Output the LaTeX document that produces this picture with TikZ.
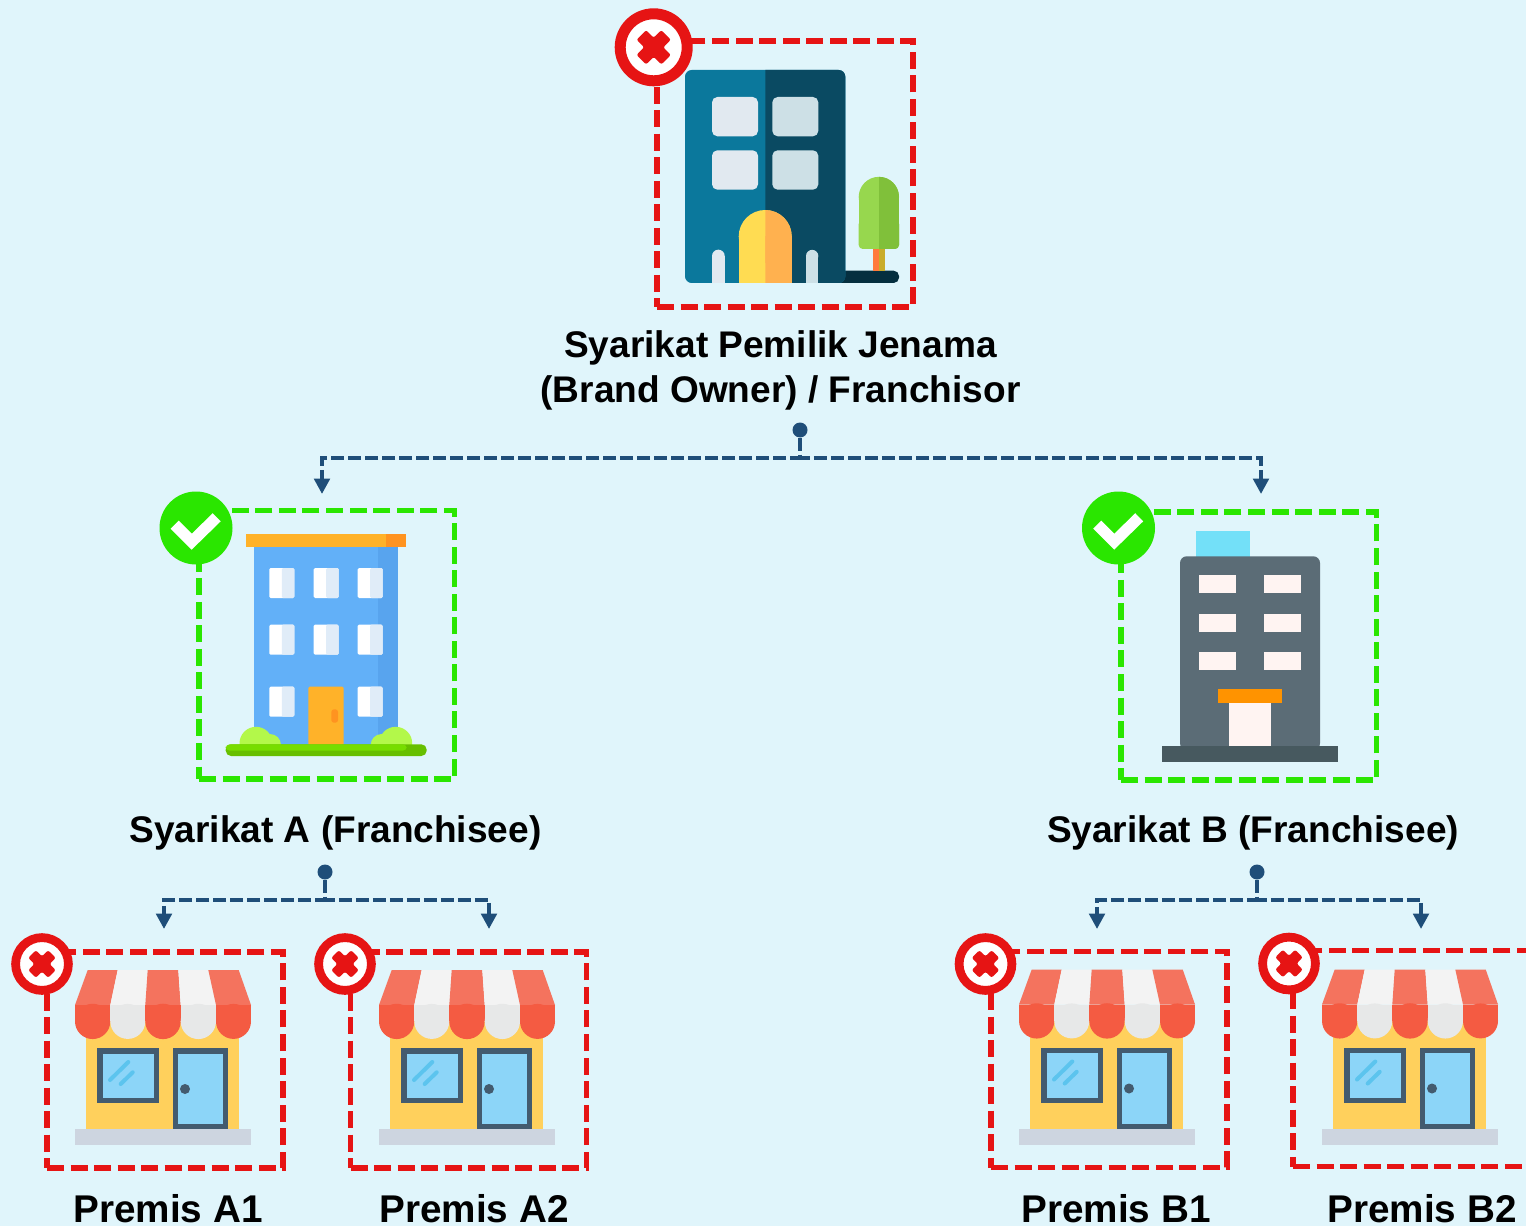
\documentclass[tikz,border=0pt]{standalone}
\usepackage{fontspec}
\setmainfont{Liberation Sans}
\usetikzlibrary{arrows.meta}
\definecolor{skyback}{HTML}{E0F5FB}
\definecolor{nored}{HTML}{E61414}
\definecolor{yesgreen}{HTML}{2AE600}
\definecolor{flowblue}{HTML}{1F4E79}
\definecolor{shopwall}{HTML}{FFD05C}
\definecolor{shopstep}{HTML}{CDD5E0}
\definecolor{awnred}{HTML}{F4735E}
\definecolor{awnwhite}{HTML}{F3F3F3}
\definecolor{lipred}{HTML}{F45B42}
\definecolor{lipgrey}{HTML}{E7E8E8}
\definecolor{frameslate}{HTML}{435B6F}
\definecolor{glass}{HTML}{8CD5F8}
\definecolor{glint}{HTML}{5CC4EE}
\definecolor{panelshade}{HTML}{E0ECF8}
\begin{document}
\begin{tikzpicture}[x=0.75pt, y=-0.75pt]
\tikzset{
  redbox/.style={draw=nored, line width=4pt, dash pattern=on 12.75pt off 4.9pt, inner sep=0pt, outer sep=0pt},
  greenbox/.style={draw=yesgreen, line width=4pt, dash pattern=on 12.75pt off 4.9pt, inner sep=0pt, outer sep=0pt},
  shopbox/.style={redbox, minimum width=177pt, minimum height=162pt},
  nobadge/.style={circle, draw=nored, fill=white, line width=8.25pt, minimum size=50.25pt, inner sep=0pt},
  shopbadge/.style={circle, draw=nored, fill=white, line width=6.6pt, minimum size=39.6pt, inner sep=0pt},
  yesbadge/.style={circle, fill=yesgreen, minimum size=54.75pt, inner sep=0pt},
  dotnode/.style={circle, fill=flowblue, minimum size=11.25pt, inner sep=0pt},
  flow/.style={draw=flowblue, line width=3pt, dash pattern=on 9.75pt off 3pt, -{Triangle[length=11.5pt, width=11.5pt]}},
  labeltext/.style={font=\bfseries\fontsize{27.8}{33.75}\selectfont, align=center, inner sep=0pt},
  shoptext/.style={font=\bfseries\fontsize{29}{33.75}\selectfont, align=center, inner sep=0pt},
  pics/nomark/.style={code={
    \fill[nored, rotate=45, rounded corners=1.5pt] (-6.75,-17.5) -- (6.75,-17.5) -- (6.75,-6.75) -- (17.5,-6.75) -- (17.5,6.75) -- (6.75,6.75) -- (6.75,17.5) -- (-6.75,17.5) -- (-6.75,6.75) -- (-17.5,6.75) -- (-17.5,-6.75) -- (-6.75,-6.75) -- cycle;
  }},
  pics/yesmark/.style={code={
    \draw[white, line width=8.5pt] (-21.3,-3.3) -- (-4.3,13.7) -- (20.7,-10.7);
  }},
  pics/panel/.style={code={
    \fill[white, rounded corners=1pt] (0,0) rectangle (25,30);
    \fill[panelshade, rounded corners=1pt] (12.5,0) rectangle (25,30);
  }},
  pics/shopicon/.style={code={
    % wall and step
    \fill[shopwall] (11.3,50) rectangle (164.3,159.3);
    \fill[shopstep] (0,159.3) rectangle (176,175);
    % awning
    \fill[awnred] (12.7,0) -- (42.7,0) -- (35.3,35) -- (0,35) -- cycle;
    \fill[awnwhite] (42.7,0) -- (72.7,0) -- (70.3,35) -- (35.3,35) -- cycle;
    \fill[awnred] (72.7,0) -- (103.3,0) -- (105.7,35) -- (70.3,35) -- cycle;
    \fill[awnwhite] (103.3,0) -- (133.3,0) -- (141,35) -- (105.7,35) -- cycle;
    \fill[awnred] (133.3,0) -- (163.7,0) -- (176,35) -- (141,35) -- cycle;
    \fill[lipred] (0,35) rectangle (35.3,51.4);
    \fill[lipred] (17.65,51.4) circle[radius=17.65];
    \fill[lipgrey] (35.3,35) rectangle (70.3,51.4);
    \fill[lipgrey] (52.8,51.4) circle[radius=17.5];
    \fill[lipred] (70.3,35) rectangle (105.7,51.4);
    \fill[lipred] (88,51.4) circle[radius=17.7];
    \fill[lipgrey] (105.7,35) rectangle (141,51.4);
    \fill[lipgrey] (123.35,51.4) circle[radius=17.65];
    \fill[lipred] (141,35) rectangle (176,51.4);
    \fill[lipred] (158.5,51.4) circle[radius=17.5];
    % window
    \fill[frameslate] (22,78) rectangle (84.3,133.3);
    \fill[glass] (28,83.7) rectangle (79,128);
    \draw[glint, line width=3pt, line cap=round] (35,110) -- (53.3,92);
    \draw[glint, line width=3pt, line cap=round] (45.7,114) -- (57.7,102.3);
    % door
    \fill[frameslate] (97.7,78) rectangle (153,159.3);
    \fill[glass] (103,83.7) rectangle (148,154);
    \fill[frameslate] (110,119) circle[radius=5];
  }},
}
\useasboundingbox (0,0) rectangle (1526,1226);
\clip (0,0) rectangle (1526,1226);
\fill[skyback] (0,0) rectangle (1526,1226);

% franchisor building
\fill[rounded corners=4pt, fill={rgb,255:red,5;green,47;blue,63}] (830,270.7) rectangle (899,283);
\fill[rounded corners=5pt, fill={rgb,255:red,11;green,120;blue,156}] (685,70) rectangle (845.3,283);
\begin{scope}
\clip (765.3,60) rectangle (860,290);
\fill[rounded corners=5pt, fill={rgb,255:red,10;green,74;blue,98}] (685,70) rectangle (845.3,283);
\end{scope}
\fill[rounded corners=4pt, fill={rgb,255:red,225;green,233;blue,240}] (712,97) rectangle (758,136.3);
\fill[rounded corners=4pt, fill={rgb,255:red,225;green,233;blue,240}] (712,150.3) rectangle (758,189.7);
\fill[rounded corners=4pt, fill={rgb,255:red,205;green,224;blue,230}] (772.3,97) rectangle (818.3,136.3);
\fill[rounded corners=4pt, fill={rgb,255:red,205;green,224;blue,230}] (772.3,150.3) rectangle (818.3,189.7);
\fill[fill={rgb,255:red,255;green,220;blue,82}] (738.7,236.5) rectangle (791.7,283);
\fill[fill={rgb,255:red,255;green,220;blue,82}] (765.2,236.5) circle[radius=26.5];
\begin{scope}
\clip (765.3,200) rectangle (800,290);
\fill[fill={rgb,255:red,255;green,177;blue,79}] (738.7,236.5) rectangle (791.7,283);
\fill[fill={rgb,255:red,255;green,177;blue,79}] (765.2,236.5) circle[radius=26.5];
\end{scope}
\fill[fill={rgb,255:red,225;green,233;blue,240}] (712,256) rectangle (724.7,283);
\fill[fill={rgb,255:red,225;green,233;blue,240}] (718.35,256) circle[radius=6.35];
\fill[fill={rgb,255:red,205;green,224;blue,230}] (806,256) rectangle (818.3,283);
\fill[fill={rgb,255:red,205;green,224;blue,230}] (812.15,256) circle[radius=6.15];
\fill[fill={rgb,255:red,255;green,122;blue,60}] (872.7,245) rectangle (879,270.7);
\fill[fill={rgb,255:red,201;green,172;blue,42}] (879,245) rectangle (885,270.7);
\fill[fill={rgb,255:red,151;green,215;blue,78}] (858.7,197) rectangle (899,240);
\fill[fill={rgb,255:red,151;green,215;blue,78}] (878.85,197) circle[radius=20.15];
\fill[rounded corners=3pt, fill={rgb,255:red,151;green,215;blue,78}] (858.7,220) rectangle (899,249);
\begin{scope}
\clip (879,170) rectangle (905,255);
\fill[fill={rgb,255:red,128;green,192;blue,58}] (858.7,197) rectangle (899,240);
\fill[fill={rgb,255:red,128;green,192;blue,58}] (878.85,197) circle[radius=20.15];
\fill[rounded corners=3pt, fill={rgb,255:red,128;green,192;blue,58}] (858.7,220) rectangle (899,249);
\end{scope}

% franchisee A building
\fill[fill={rgb,255:red,98;green,176;blue,248}] (254,547) rectangle (398,745);
\fill[fill={rgb,255:red,88;green,164;blue,238}] (378,547) rectangle (398,745);
\begin{scope}
\clip (230,720) rectangle (420,750);
\fill[fill={rgb,255:red,179;green,248;blue,74}] (256,743.3) circle[radius=16.5];
\fill[fill={rgb,255:red,179;green,248;blue,74}] (270,745) circle[radius=11];
\fill[fill={rgb,255:red,179;green,248;blue,74}] (395.7,743.3) circle[radius=16.5];
\fill[fill={rgb,255:red,179;green,248;blue,74}] (381.7,745) circle[radius=11];
\end{scope}
\fill[fill={rgb,255:red,255;green,178;blue,41}] (246,534) rectangle (386,547);
\fill[fill={rgb,255:red,255;green,147;blue,32}] (386,534) rectangle (406,547);
\pic at (269.3,568) {panel};
\pic at (313.7,568) {panel};
\pic at (357.7,568) {panel};
\pic at (269.3,624.7) {panel};
\pic at (313.7,624.7) {panel};
\pic at (357.7,624.7) {panel};
\pic at (269.3,686.7) {panel};
\pic at (357.7,686.7) {panel};
\fill[rounded corners=1pt, fill={rgb,255:red,255;green,178;blue,41}] (308.3,686.7) rectangle (343.7,745);
\fill[rounded corners=2pt, fill={rgb,255:red,255;green,147;blue,32}] (331.3,709.3) rectangle (338,722.7);
\fill[rounded corners=4pt, fill={rgb,255:red,103;green,191;blue,0}] (225.7,744.3) rectangle (426.7,756);
\fill[rounded corners=3pt, fill={rgb,255:red,119;green,221;blue,0}] (225.7,744.3) rectangle (406.7,750.7);

% franchisee B building
\fill[fill={rgb,255:red,115;green,224;blue,248}] (1195.7,531.3) rectangle (1250,558);
\fill[rounded corners=5pt, fill={rgb,255:red,91;green,108;blue,118}] (1180,556.3) rectangle (1320,750);
\fill[fill={rgb,255:red,255;green,244;blue,242}] (1198.7,575) rectangle (1236.3,593);
\fill[fill={rgb,255:red,255;green,244;blue,242}] (1263.7,575) rectangle (1301.3,593);
\fill[fill={rgb,255:red,255;green,244;blue,242}] (1198.7,613.7) rectangle (1236.3,631.7);
\fill[fill={rgb,255:red,255;green,244;blue,242}] (1263.7,613.7) rectangle (1301.3,631.7);
\fill[fill={rgb,255:red,255;green,244;blue,242}] (1198.7,652.3) rectangle (1236.3,670.3);
\fill[fill={rgb,255:red,255;green,244;blue,242}] (1263.7,652.3) rectangle (1301.3,670.3);
\fill[fill={rgb,255:red,255;green,244;blue,242}] (1229.3,703.3) rectangle (1270.7,745.7);
\fill[fill={rgb,255:red,255;green,147;blue,0}] (1218,689) rectangle (1282,703.3);
\fill[fill={rgb,255:red,71;green,89;blue,95}] (1162.3,745.7) rectangle (1337.7,762.3);

% shops
\pic at (75,970) {shopicon};
\pic at (379,970) {shopicon};
\pic at (1019,969.5) {shopicon};
\pic at (1322,969.5) {shopicon};

% dashed frames
\node[redbox, minimum width=192pt, minimum height=199.5pt] (BoxRoot) at (785,174) {};
\node[greenbox, minimum width=191.5pt, minimum height=201.5pt] (BoxA) at (326.7,644.7) {};
\node[greenbox, minimum width=191.75pt, minimum height=201pt] (BoxB) at (1248.9,646) {};
\node[shopbox] (BoxA1) at (165,1060) {};
\node[shopbox] (BoxA2) at (468.5,1060) {};
\node[shopbox] (BoxB1) at (1109,1059.5) {};
\node[shopbox] (BoxB2) at (1411,1058.5) {};

% badges
\node[nobadge] (MarkRoot) at (653.7,47.3) {};
\pic at (MarkRoot) {nomark};
\node[yesbadge] (MarkA) at (196,528) {};
\pic at (MarkA) {yesmark};
\node[yesbadge] (MarkB) at (1118.5,528) {};
\pic at (MarkB) {yesmark};
\node[shopbadge] (MarkA1) at (42,964) {};
\pic[scale=.8] at (MarkA1) {nomark};
\node[shopbadge] (MarkA2) at (345,964) {};
\pic[scale=.8] at (MarkA2) {nomark};
\node[shopbadge] (MarkB1) at (985.5,964) {};
\pic[scale=.8] at (MarkB1) {nomark};
\node[shopbadge] (MarkB2) at (1289,963.5) {};
\pic[scale=.8] at (MarkB2) {nomark};

% labels
\node[labeltext] (LabelRoot) at (780.5,370) {Syarikat Pemilik Jenama\\(Brand Owner) / Franchisor};
\node[labeltext] (LabelA) at (335.5,833) {Syarikat A (Franchisee)};
\node[labeltext] (LabelB) at (1253,833) {Syarikat B (Franchisee)};
\node[shoptext] (LabelA1) at (168,1209) {Premis A1};
\node[shoptext] (LabelA2) at (474,1209) {Premis A2};
\node[shoptext] (LabelB1) at (1116,1209) {Premis B1};
\node[shoptext] (LabelB2) at (1422,1209) {Premis B2};

% connectors
\node[dotnode] (DotRoot) at (800,430) {};
\node[dotnode] (DotA) at (325,872) {};
\node[dotnode] (DotB) at (1257,872) {};
\coordinate (JoinRoot) at (800,458);
\coordinate (JoinA) at (325,900);
\coordinate (JoinB) at (1257,900);
\coordinate (TipA) at (322,494);
\coordinate (TipB) at (1261,494);
\coordinate (TipA1) at (164,929);
\coordinate (TipA2) at (489,929);
\coordinate (TipB1) at (1097,929);
\coordinate (TipB2) at (1421,929);
\draw[flow] (DotRoot) -- (JoinRoot) -| (TipA);
\draw[flow] (DotRoot) -- (JoinRoot) -| (TipB);
\draw[flow] (DotA) -- (JoinA) -| (TipA1);
\draw[flow] (DotA) -- (JoinA) -| (TipA2);
\draw[flow] (DotB) -- (JoinB) -| (TipB1);
\draw[flow] (DotB) -- (JoinB) -| (TipB2);
\end{tikzpicture}
\end{document}
